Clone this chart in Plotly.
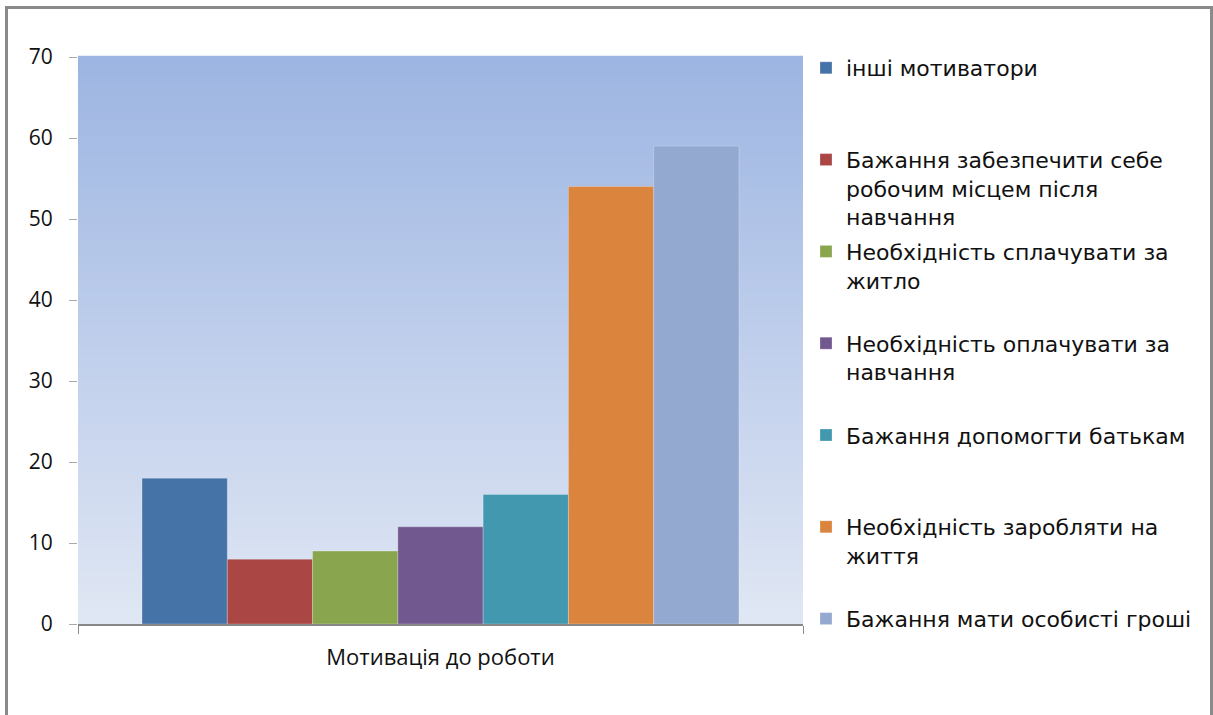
import plotly.graph_objects as go

category = ["Мотивація до роботи"]
series_names = [
    "інші мотиватори",
    "Бажання забезпечити себе<br>робочим місцем після<br>навчання",
    "Необхідність сплачувати за<br>житло",
    "Необхідність оплачувати за<br>навчання",
    "Бажання допомогти батькам",
    "Необхідність заробляти на<br>життя",
    "Бажання мати особисті гроші",
]
values = [18, 8, 9, 12, 16, 54, 59]
colors = ["#4572A7", "#AA4643", "#89A54E", "#71588F", "#4198AF", "#DB843D", "#93A9CF"]
y_ticks = [0, 10, 20, 30, 40, 50, 60, 70]

W, H = 1213, 715
L, R, T, B = 78, 410, 57, 91
pw, ph = W - L - R, H - T - B


def px_x(px):
    return (px - L) / pw


def px_y(py):
    return (H - B - py) / ph


fig = go.Figure()
last = len(series_names) - 1
for i, (name, v, c) in enumerate(zip(series_names, values, colors)):
    nlines = name.count("<br>") + 1
    label = name if i == last else name + "<br> " * (3 - nlines)
    fig.add_trace(go.Bar(
        x=category, y=[v], name=label, legendgroup=f"g{i}",
        marker=dict(color=c, line=dict(color="rgba(255,255,255,0.25)", width=1)),
    ))

# vertical gradient background
top = (157, 181, 226)
bot = (224, 231, 244)
n = 140
shapes = []
for k in range(n):
    t = k / (n - 1)
    col = tuple(round(bot[j] + (top[j] - bot[j]) * t) for j in range(3))
    shapes.append(dict(
        type="rect", xref="paper", yref="paper",
        x0=0, x1=1, y0=k / n, y1=(k + 1) / n + 0.002,
        fillcolor="rgb(%d,%d,%d)" % col, line=dict(width=0), layer="below",
    ))
# outer frame
shapes.append(dict(
    type="rect", xref="paper", yref="paper",
    x0=px_x(6.5), x1=px_x(1211.5), y0=px_y(730), y1=px_y(7.5),
    line=dict(color="#8a8a8a", width=3), fillcolor="rgba(0,0,0,0)", layer="above",
))

fig.update_layout(
    width=W, height=H,
    margin=dict(l=L, r=R, t=T, b=B),
    paper_bgcolor="white",
    plot_bgcolor="rgba(0,0,0,0)",
    barmode="group",
    bargap=0.1766,
    bargroupgap=0,
    shapes=shapes,
    showlegend=True,
    legend=dict(
        x=px_x(806), xanchor="left",
        y=px_y(47), yanchor="top",
        valign="top",
        tracegroupgap=3,
        maxheight=700,
        font=dict(family="DejaVu Sans", size=22, color="#111111"),
        bgcolor="rgba(0,0,0,0)",
    ),
    font=dict(family="Open Sans", size=21, color="#111111"),
)
fig.update_xaxes(
    showline=True, linecolor="#888888", linewidth=2,
    ticks="outside", tickson="boundaries", ticklen=8, tickcolor="#888888",
    ticklabelstandoff=13,
    tickfont=dict(family="Open Sans", size=22, color="#111111"),
    showgrid=False,
)
fig.update_yaxes(
    range=[0, 70], tickvals=y_ticks,
    showline=False, showgrid=False, zeroline=False,
    ticks="outside", ticklen=8, tickcolor="#aaaaaa",
    ticklabelstandoff=12,
    tickfont=dict(family="Open Sans", size=21, color="#111111"),
)

fig.write_html(
    "out.html",
    config={"displayModeBar": False},
    post_script="document.body.style.margin='0';",
)
